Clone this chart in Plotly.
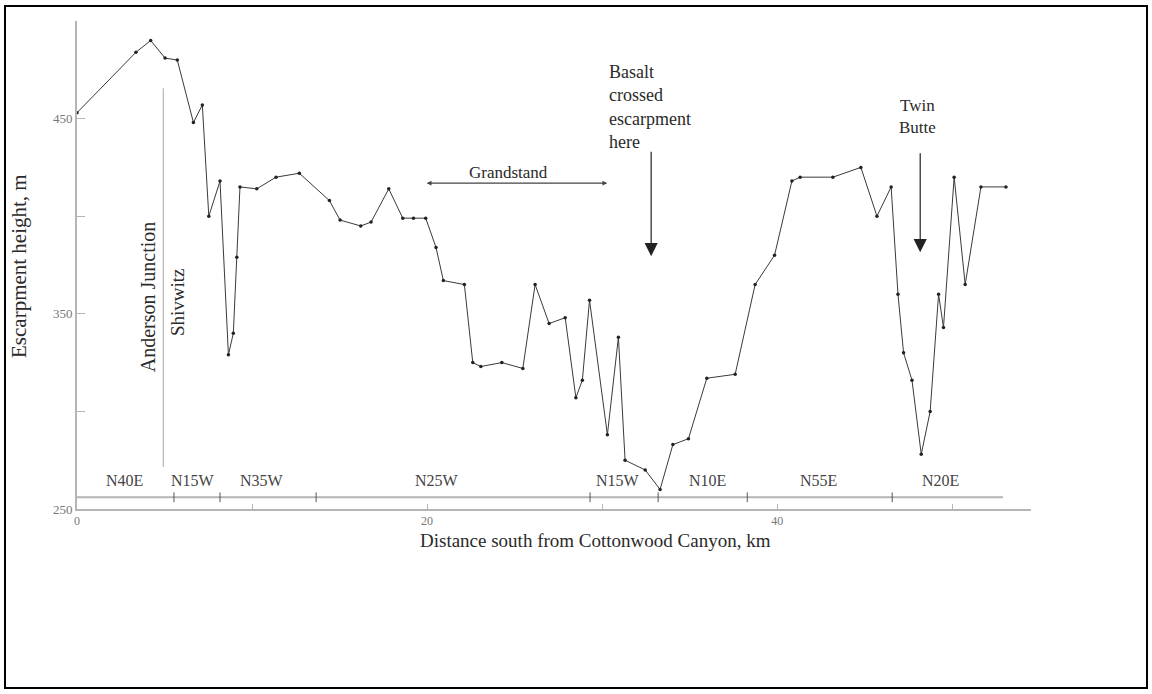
import plotly.graph_objects as go

# Escarpment profile (distance km, height m)
distance_km = [0, 3.37, 4.21, 5.03, 5.73, 6.65, 7.16, 7.53, 8.17, 8.65, 8.93, 9.13, 9.31,
               10.27, 11.37, 12.7, 14.42, 15.03, 16.21, 16.8, 17.81, 18.61, 19.22, 19.92,
               20.51, 20.93, 22.13, 22.61, 23.07, 24.27, 25.47, 26.17, 26.97, 27.89, 28.5,
               28.87, 29.28, 30.3, 30.93, 31.31, 32.46, 33.31, 34.04, 34.93, 35.98, 37.6,
               38.74, 39.85, 40.84, 41.31, 43.18, 44.78, 45.7, 46.51, 46.9, 47.22, 47.7,
               48.23, 48.74, 49.22, 49.5, 50.11, 50.74, 51.64, 53.07]
height_m = [453, 484, 490, 481, 480, 448, 457, 400, 418, 329, 340, 379, 415,
            414, 420, 422, 408, 398, 395, 397, 414, 399, 399, 399,
            384, 367, 365, 325, 323, 325, 322, 365, 345, 348, 307,
            316, 357, 288, 338, 275, 270, 260, 283, 286, 317, 319,
            365, 380, 418, 420, 420, 425, 400, 415, 360, 330, 316,
            278, 300, 360, 343, 420, 365, 415, 415]

# Strike-direction segments along the bottom strip
segment_bounds = [0, 5.54, 8.17, 13.66, 29.31, 33.2, 38.29, 46.57, 52.9]
segment_labels = ["N40E", "N15W", "N35W", "N25W", "N15W", "N10E", "N55E", "N20E"]
segment_label_x = [2.74, 6.63, 10.57, 20.57, 30.91, 36.0, 42.34, 49.31]

y_ticks = [250, 300, 350, 400, 450, 500]
y_ticktext = ["250", "", "350", "", "450", ""]
x_ticks = [0, 10, 20, 30, 40, 50]
x_ticktext = ["0", "", "20", "", "40", ""]

FONT = "Liberation Serif"
TXT = "#2a2a2a"
AX = "#b5b5b5"

# pixel -> paper helpers for the fixed 1152x694 layout (plot area 77..1031, 21..509)
def px(xp):
    return (xp - 77) / 954.0

def py(yp):
    return (509 - yp) / 488.0

fig = go.Figure()

strip_y = 256
fig.add_trace(go.Scatter(x=[segment_bounds[0], segment_bounds[-1]], y=[strip_y, strip_y],
                         mode="lines", line=dict(color=AX, width=2), hoverinfo="skip",
                         showlegend=False))

fig.add_trace(go.Scatter(x=distance_km, y=height_m, mode="lines+markers",
                         line=dict(color="#3a3a3a", width=1),
                         marker=dict(size=3.5, color="#222"),
                         showlegend=False))

shapes = []
for b in segment_bounds[1:-1]:
    shapes.append(dict(type="line", xref="x", yref="y", x0=b, x1=b, y0=strip_y - 2.5,
                       y1=strip_y + 2.5, line=dict(color="#555", width=1)))
shapes.append(dict(type="line", xref="x", yref="y", x0=4.93, x1=4.93, y0=271.5, y1=465.6,
                   line=dict(color=AX, width=1.2)))
shapes.append(dict(type="rect", xref="paper", yref="paper", x0=px(5), x1=px(1147),
                   y0=py(688), y1=py(6), line=dict(color="black", width=2)))

annotations = []
for lx, lab in zip(segment_label_x, segment_labels):
    annotations.append(dict(x=lx, y=264.8, xref="x", yref="y", text=lab, showarrow=False,
                            font=dict(family=FONT, size=16, color="#444")))

annotations += [
    dict(x=4.06, y=358.5, xref="x", yref="y", text="Anderson Junction", textangle=-90,
         showarrow=False, font=dict(family=FONT, size=20, color=TXT)),
    dict(x=5.71, y=356, xref="x", yref="y", text="Shivwitz", textangle=-90,
         showarrow=False, font=dict(family=FONT, size=19, color=TXT)),
    dict(x=24.63, y=422.6, xref="x", yref="y", text="Grandstand", showarrow=False,
         font=dict(family=FONT, size=17, color=TXT)),
    dict(x=30.29, y=416.9, ax=19.89, ay=416.9, xref="x", yref="y", axref="x", ayref="y",
         text="", showarrow=True, arrowhead=2, startarrowhead=2, arrowside="end+start",
         arrowsize=0.8, startarrowsize=0.8, arrowwidth=1.2, arrowcolor="#444"),
    dict(x=px(607), y=py(60), xref="paper", yref="paper", xanchor="left", yanchor="top",
         text="Basalt<br>crossed<br>escarpment<br>here", align="left", showarrow=False,
         font=dict(family=FONT, size=18, color=TXT)),
    dict(x=32.8, y=379.5, ax=32.8, ay=433.8, xref="x", yref="y", axref="x", ayref="y",
         text="", showarrow=True, arrowhead=2, arrowsize=2.2, arrowwidth=1.2,
         arrowcolor="#222"),
    dict(x=px(917), y=py(94), xref="paper", yref="paper", xanchor="center", yanchor="top",
         text="Twin<br>Butte", align="center", showarrow=False,
         font=dict(family=FONT, size=17, color=TXT)),
    dict(x=48.17, y=381.5, ax=48.17, ay=433, xref="x", yref="y", axref="x", ayref="y",
         text="", showarrow=True, arrowhead=2, arrowsize=2.2, arrowwidth=1.2,
         arrowcolor="#222"),
    dict(x=px(19), y=py(266), xref="paper", yref="paper", xanchor="center",
         yanchor="middle", text="Escarpment height, m",
         textangle=-90, showarrow=False, font=dict(family=FONT, size=21, color=TXT)),
    dict(x=px(595), y=py(540), xref="paper", yref="paper", xanchor="center",
         yanchor="middle", text="Distance south from Cottonwood Canyon, km",
         showarrow=False, font=dict(family=FONT, size=19, color=TXT)),
]

fig.update_layout(
    width=1152, height=694,
    margin=dict(l=77, r=121, t=21, b=185),
    paper_bgcolor="white", plot_bgcolor="white",
    shapes=shapes, annotations=annotations,
    xaxis=dict(range=[0, 54.5], tickvals=x_ticks, ticktext=x_ticktext, ticks="inside",
               ticklen=5, tickcolor=AX, showline=True, linecolor=AX, linewidth=2,
               showgrid=False, zeroline=False, tickfont=dict(family=FONT, size=12, color="#777")),
    yaxis=dict(range=[250, 500], tickvals=y_ticks, ticktext=y_ticktext, ticks="inside",
               ticklen=8, tickcolor=AX, showline=True, linecolor=AX, linewidth=2,
               showgrid=False, zeroline=False, tickfont=dict(family=FONT, size=13, color="#777")),
)

fig.write_html("out.html")
